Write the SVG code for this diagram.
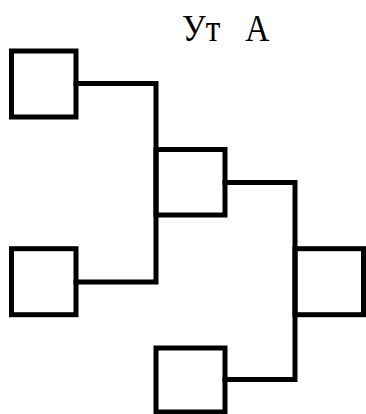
<svg xmlns="http://www.w3.org/2000/svg" width="366" height="414" viewBox="0 0 366 414">
<style>
.box{fill:none;stroke:#000;stroke-width:5}
.wire{fill:none;stroke:#000;stroke-width:5;stroke-linejoin:miter;stroke-linecap:square}
.lbl{font-family:"Liberation Serif","Times New Roman",serif;font-size:38px;fill:#000}
</style>
<rect width="366" height="414" fill="#fff"/>
<g id="connectors">
<path class="wire" d="M76,83.5 H156 V282 H76"/>
<path class="wire" d="M225,182.5 H295 V379.5 H225"/>
</g>
<g id="node1"><rect class="box" x="11.5" y="51" width="64.5" height="66"/></g>
<g id="node2"><rect class="box" x="11.5" y="248.7" width="64.5" height="66"/></g>
<g id="node3"><rect class="box" x="156" y="149.5" width="69" height="65.5"/></g>
<g id="node4"><rect class="box" x="156" y="348" width="69" height="64"/></g>
<g id="node5"><rect class="box" x="295" y="248.7" width="68.5" height="66"/></g>
<g id="label"><text class="lbl" transform="translate(182,41) scale(0.88,1)" x="0" y="0">Ут<tspan x="72">А</tspan></text></g>
</svg>
